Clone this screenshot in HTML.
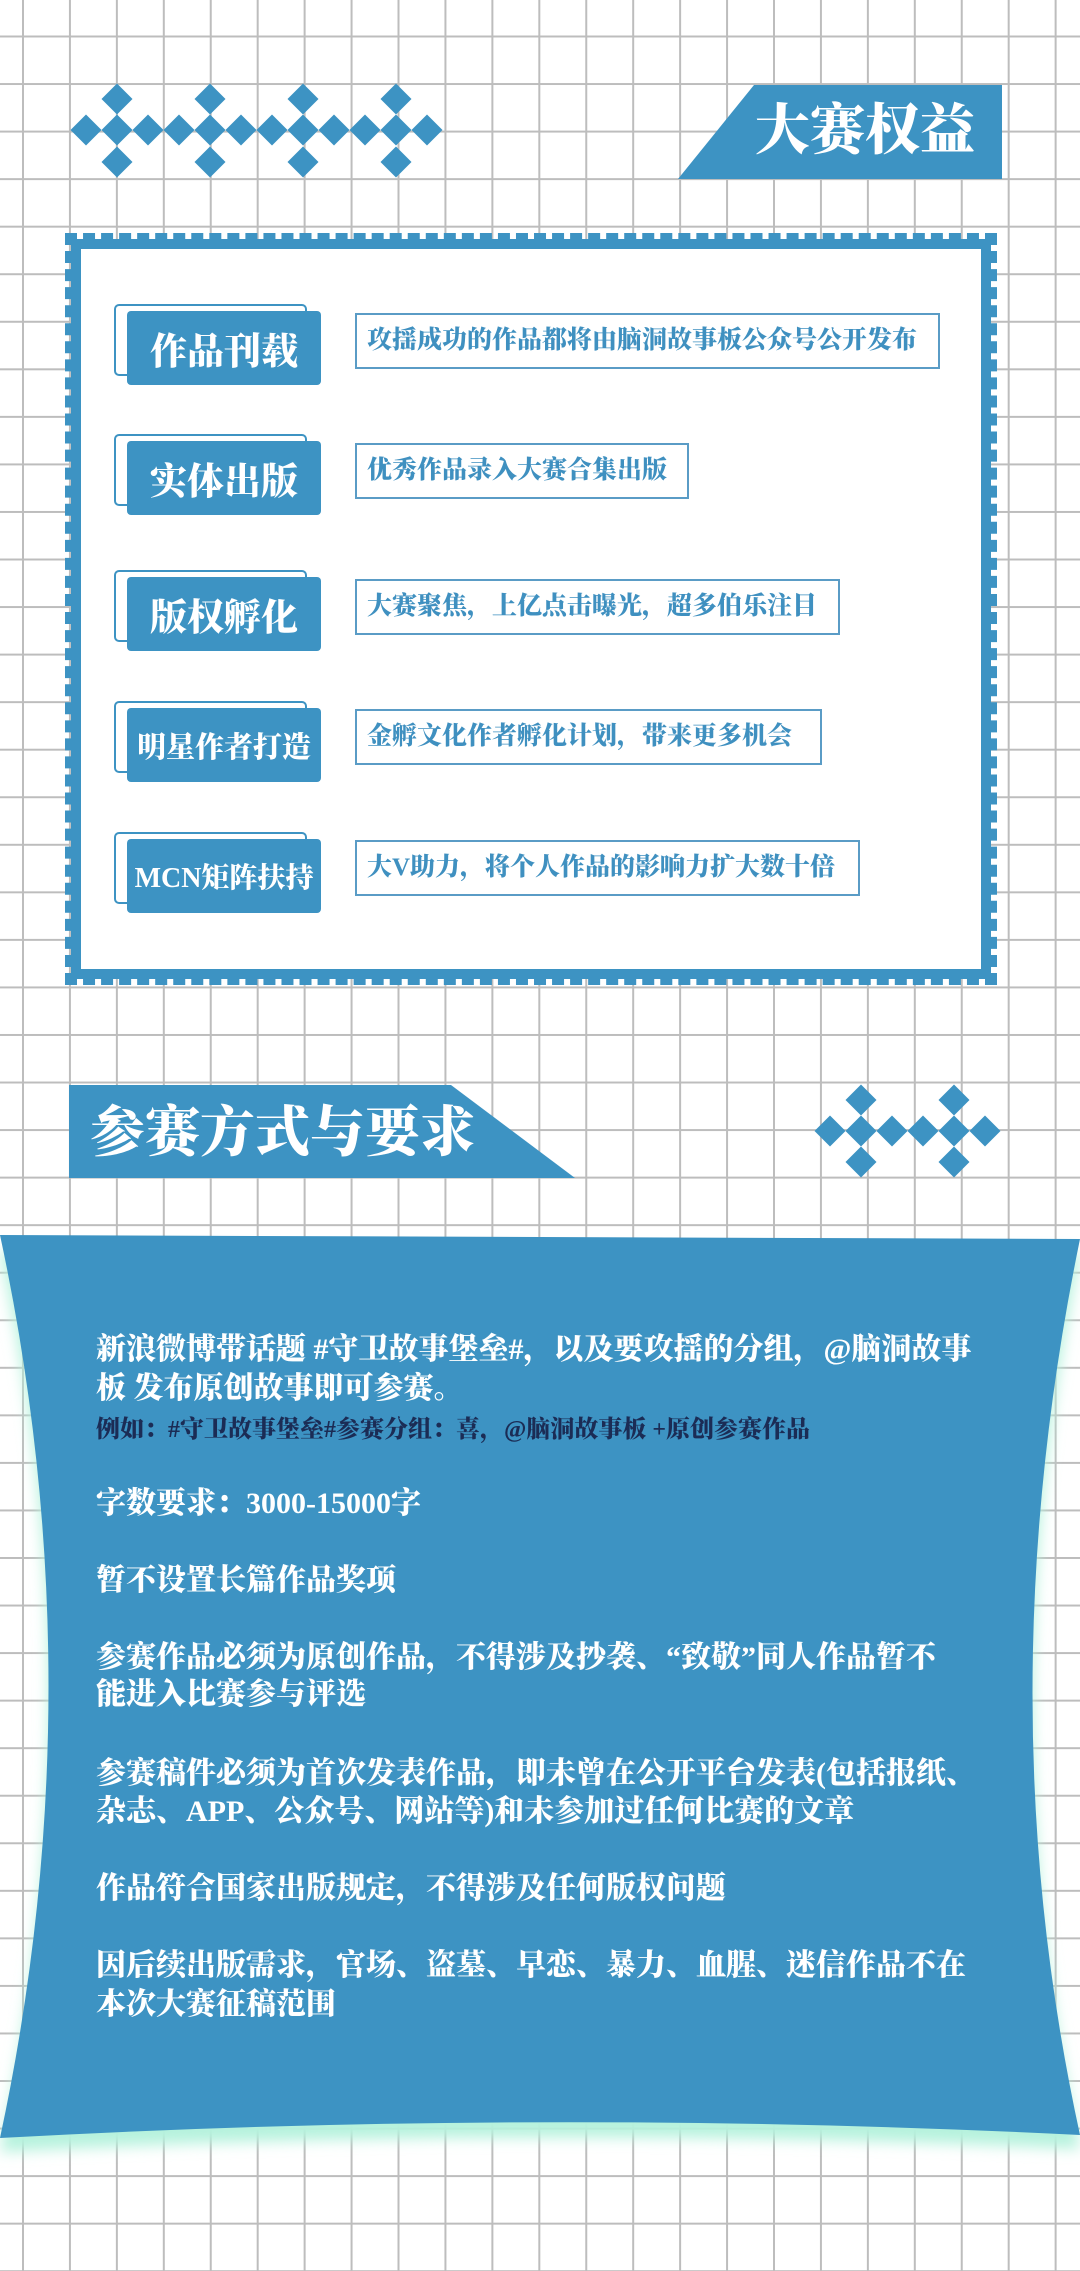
<!DOCTYPE html>
<html><head><meta charset="utf-8">
<style>
html,body{margin:0;padding:0}
body{width:1080px;height:2271px;position:relative;overflow:hidden;background:#fff;
background-image:linear-gradient(90deg,#bdbdbd 0,#bdbdbd 2px,transparent 2px),linear-gradient(0deg,transparent calc(100% - 2px),#bdbdbd calc(100% - 2px));
background-size:46.95px 47.55px;background-position:22px 0,0 35.5px;
font-family:"Liberation Serif","Noto Serif CJK SC",serif;}
.abs{position:absolute}
.frame{left:65px;top:233px;width:932px;height:752px;box-sizing:border-box;border:6px dashed #3d93c3;}
.frame-in{left:71px;top:239px;width:920px;height:740px;box-sizing:border-box;border:10px solid #3d93c3;background:#fff}
.lbl-back{position:absolute;width:193px;height:72px;box-sizing:border-box;border:2px solid #3d93c3;border-radius:5px;background:#fff}
.lbl{position:absolute;width:194px;height:74px;background:#3d93c3;border-radius:4px;color:#fff;font-weight:900;display:flex;align-items:center;justify-content:center;white-space:nowrap}
.box{position:absolute;height:56px;box-sizing:border-box;border:2px solid #5a9cc6;background:#fff;color:#3f90c0;font-weight:900;font-size:25px;line-height:52px;padding-left:10px;white-space:nowrap}
.t{position:absolute;left:96px;color:#fff;font-weight:900;font-size:30px;white-space:nowrap;line-height:38px}
</style></head><body>
<svg class="abs" style="left:0;top:0" width="1080" height="2271">
<defs><filter id="glow" x="-10%" y="-10%" width="120%" height="120%"><feGaussianBlur stdDeviation="7"/></filter></defs>
<g fill="#3d93c3" id="diam1"></g>
<g fill="#3d93c3" id="diam2"></g>
<polygon points="754,85 1002,85 1002,179 678,179" fill="#3d93c3"/>
<polygon points="69,1085 451,1085 575,1178 69,1178" fill="#3d93c3"/>
<path d="M0,1237 L1080,1239 Q985,1700 1080,2135 Q540,2110 0,2138 Q97,1686 0,1237 Z" fill="#b6f2dd" transform="translate(0,14)" filter="url(#glow)"/>
<path d="M0,1235 L1080,1239 Q985,1700 1080,2135 Q540,2108 0,2138 Q97,1686 0,1235 Z" fill="#3d93c3"/>
</svg>
<div class="abs" style="left:755px;top:98px;font-size:55px;color:#fff;font-weight:900;line-height:66px;white-space:nowrap">大赛权益</div>
<div class="abs frame"></div>
<div class="abs frame-in"></div>

<div class="lbl-back" style="left:114px;top:304px"></div>
<div class="lbl" style="left:127px;top:311px;font-size:37px">作品刊载</div>
<div class="box" style="left:355px;top:313px;width:585px">攻揺成功的作品都将由脑洞故事板公众号公开发布</div>

<div class="lbl-back" style="left:114px;top:434px"></div>
<div class="lbl" style="left:127px;top:441px;font-size:37px">实体出版</div>
<div class="box" style="left:355px;top:443px;width:334px">优秀作品录入大赛合集出版</div>

<div class="lbl-back" style="left:114px;top:570px"></div>
<div class="lbl" style="left:127px;top:577px;font-size:37px">版权孵化</div>
<div class="box" style="left:355px;top:579px;width:485px">大赛聚焦，上亿点击曝光，超多伯乐注目</div>

<div class="lbl-back" style="left:114px;top:701px"></div>
<div class="lbl" style="left:127px;top:708px;font-size:29px">明星作者打造</div>
<div class="box" style="left:355px;top:709px;width:467px">金孵文化作者孵化计划，带来更多机会</div>

<div class="lbl-back" style="left:114px;top:832px"></div>
<div class="lbl" style="left:127px;top:839px;font-size:28px">MCN矩阵扶持</div>
<div class="box" style="left:355px;top:840px;width:505px">大V助力，将个人作品的影响力扩大数十倍</div>

<div class="abs" style="left:90px;top:1100px;font-size:55px;color:#fff;font-weight:900;line-height:66px;white-space:nowrap">参赛方式与要求</div>

<div class="t" style="top:1331px">新浪微博带话题 #守卫故事堡垒#，以及要攻揺的分组，@脑洞故事</div>
<div class="t" style="top:1370px">板 发布原创故事即可参赛。</div>
<div class="t" style="top:1411px;font-size:24px;color:#1b2c55">例如：#守卫故事堡垒#参赛分组：喜，@脑洞故事板 +原创参赛作品</div>
<div class="t" style="top:1485px">字数要求：3000-15000字</div>
<div class="t" style="top:1562px">暂不设置长篇作品奖项</div>
<div class="t" style="top:1639px">参赛作品必须为原创作品，不得涉及抄袭、“致敬”同人作品暂不</div>
<div class="t" style="top:1676px">能进入比赛参与评选</div>
<div class="t" style="top:1755px">参赛稿件必须为首次发表作品，即未曾在公开平台发表(包括报纸、</div>
<div class="t" style="top:1793px">杂志、APP、公众号、网站等)和未参加过任何比赛的文章</div>
<div class="t" style="top:1870px">作品符合国家出版规定，不得涉及任何版权问题</div>
<div class="t" style="top:1947px">因后续出版需求，官场、盗墓、早恋、暴力、血腥、迷信作品不在</div>
<div class="t" style="top:1986px">本次大赛征稿范围</div>

<script>
const NS='http://www.w3.org/2000/svg';
function dia(g,cx,cy,r){
  const p=document.createElementNS(NS,'polygon');
  p.setAttribute('points',`${cx},${cy-r} ${cx+r},${cy} ${cx},${cy+r} ${cx-r},${cy}`);
  
  
  g.appendChild(p);
}
const g1=document.getElementById('diam1');
for(let k=0;k<12;k++){dia(g1,86+31*k,130,15.5);}
[1,4,7,10].forEach(k=>{dia(g1,86+31*k,99,15.5);dia(g1,86+31*k,162,15.5);});
const g2=document.getElementById('diam2');
for(let k=0;k<6;k++){dia(g2,830+31*k,1131,15.5);}
[1,4].forEach(k=>{dia(g2,830+31*k,1100,15.5);dia(g2,830+31*k,1162,15.5);});
</script>
</body></html>
